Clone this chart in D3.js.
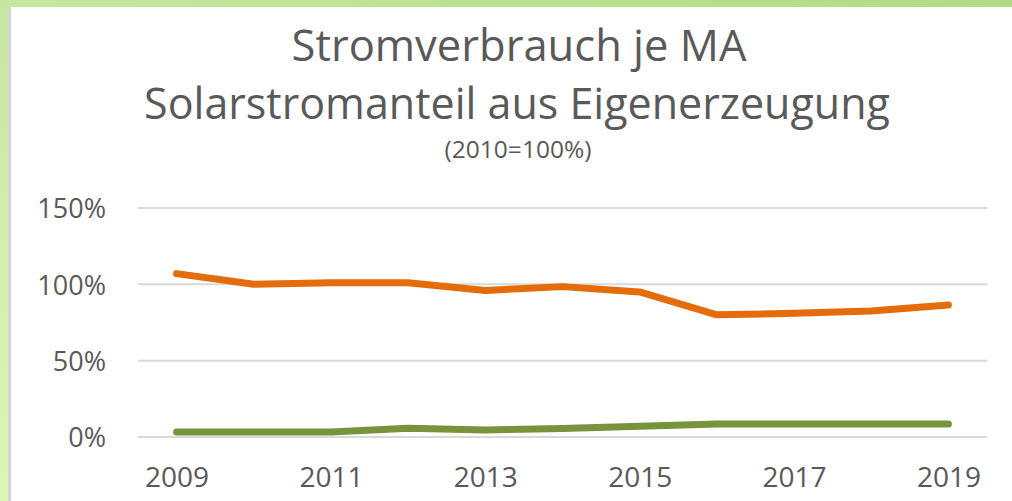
<!DOCTYPE html>
<html>
<head>
<meta charset="utf-8">
<script src="https://cdn.jsdelivr.net/npm/d3@7"></script>
<style>
  body { margin: 0; background: #fff; }
  text { font-family: "Open Sans", sans-serif; fill: #595959; }
</style>
</head>
<body>
<div id="chart"></div>
<script>
const years = [2009, 2010, 2011, 2012, 2013, 2014, 2015, 2016, 2017, 2018, 2019];
const verbrauch = [1.07, 1.00, 1.01, 1.01, 0.96, 0.985, 0.95, 0.80, 0.81, 0.825, 0.865];
const solaranteil = [0.033, 0.033, 0.033, 0.057, 0.046, 0.056, 0.070, 0.085, 0.085, 0.085, 0.085];
const yTicks = [0, 0.5, 1, 1.5];
const xTickLabels = [2009, 2011, 2013, 2015, 2017, 2019];

const width = 1012, height = 501;

const svg = d3.select("#chart").append("svg")
    .attr("width", width)
    .attr("height", height);

// green frame on top and left
const defs = svg.append("defs");
const gTop = defs.append("linearGradient").attr("id", "gTop");
gTop.append("stop").attr("offset", "0%").attr("stop-color", "#c6e7a0");
gTop.append("stop").attr("offset", "100%").attr("stop-color", "#b2da84");
const gLeft = defs.append("linearGradient").attr("id", "gLeft")
    .attr("x1", 0).attr("y1", 0).attr("x2", 0).attr("y2", 1);
gLeft.append("stop").attr("offset", "0%").attr("stop-color", "#c6e7a0");
gLeft.append("stop").attr("offset", "100%").attr("stop-color", "#dcf8b2");

svg.append("rect").attr("x", 0).attr("y", 0).attr("width", width).attr("height", 7).attr("fill", "url(#gTop)");
svg.append("rect").attr("x", 0).attr("y", 0).attr("width", 8).attr("height", height).attr("fill", "url(#gLeft)");
svg.append("rect").attr("x", 8).attr("y", 7).attr("width", 3).attr("height", height - 7).attr("fill", "#d4d4d4");

// titles
svg.append("text").attr("x", 519).attr("y", 61)
    .attr("text-anchor", "middle").style("font-size", "43.5px")
    .text("Stromverbrauch je MA");
svg.append("text").attr("x", 517).attr("y", 119)
    .attr("text-anchor", "middle").style("font-size", "43px")
    .text("Solarstromanteil aus Eigenerzeugung");
svg.append("text").attr("x", 518).attr("y", 158)
    .attr("text-anchor", "middle").style("font-size", "24.5px")
    .text("(2010=100%)");

const x = d3.scalePoint()
    .domain(years)
    .range([138, 987])
    .padding(0.5);

const y = d3.scaleLinear()
    .domain([0, 1.5])
    .range([437, 208]);

// gridlines
svg.append("g")
    .selectAll("line")
    .data(yTicks)
    .join("line")
    .attr("x1", 138).attr("x2", 987)
    .attr("y1", d => y(d)).attr("y2", d => y(d))
    .attr("stroke", "#d9d9d9").attr("stroke-width", 2);

const yAxis = svg.append("g")
    .attr("transform", "translate(106,0)")
    .call(d3.axisLeft(y).tickValues(yTicks).tickFormat(d3.format(".0%")).tickSize(0).tickPadding(0));
yAxis.select(".domain").remove();
yAxis.selectAll("text").style("font-size", "27px").attr("dy", "0.36em");

const xAxis = svg.append("g")
    .attr("transform", "translate(0,437)")
    .call(d3.axisBottom(x).tickValues(xTickLabels).tickSize(0).tickPadding(0));
xAxis.select(".domain").remove();
xAxis.selectAll("text").style("font-size", "28px").attr("y", 50).attr("dy", 0);

const line = d3.line()
    .x((d, i) => x(years[i]))
    .y(d => y(d));

svg.append("path")
    .datum(verbrauch)
    .attr("d", line)
    .attr("fill", "none")
    .attr("stroke", "#e46c0a")
    .attr("stroke-width", 7)
    .attr("stroke-linecap", "round")
    .attr("stroke-linejoin", "round");

svg.append("path")
    .datum(solaranteil)
    .attr("d", line)
    .attr("fill", "none")
    .attr("stroke", "#77933c")
    .attr("stroke-width", 7)
    .attr("stroke-linecap", "round")
    .attr("stroke-linejoin", "round");
</script>
</body>
</html>
